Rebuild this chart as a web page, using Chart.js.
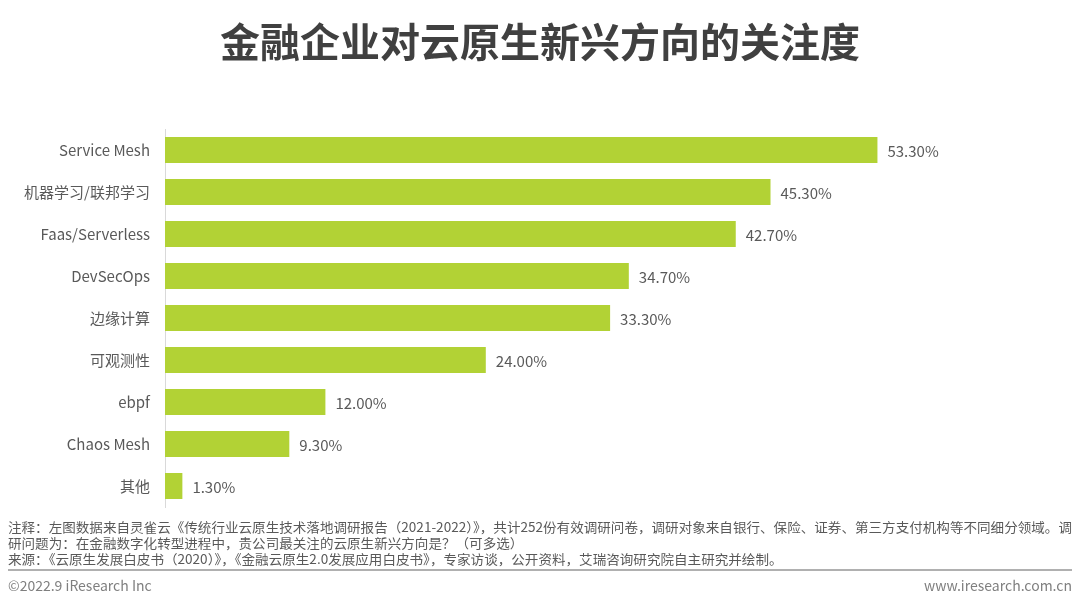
<!DOCTYPE html>
<html>
<head>
<meta charset="utf-8">
<script src="https://cdn.jsdelivr.net/npm/chart.js@4"></script>
<style>
  body { margin: 0; background: #fff; font-family: "Noto Sans CJK SC", sans-serif; }
  #wrap { position: relative; width: 1080px; height: 605px; overflow: hidden; }
  #chart { position: absolute; left: 0; top: 0; }
  .title { position: absolute; left: 0; width: 1080px; top: 13px; text-align: center;
    font-size: 40px; font-weight: bold; color: #404040; line-height: 54px; }
  .note { position: absolute; left: 8px; white-space: nowrap; font-size: 13px; color: #595959;
    line-height: 16px; transform-origin: left top; }
  .rule { position: absolute; left: 8px; width: 1064px; top: 569px; height: 2px; background: #b0b0b0; }
  .foot { position: absolute; top: 576px; font-size: 14px; color: #7f7f7f; line-height: 18px; }
</style>
</head>
<body>
<div id="wrap">
  <canvas id="chart" width="1080" height="605"></canvas>
  <div class="title">金融企业对云原生新兴方向的关注度</div>
  <div class="note" id="n1" style="top:519px">注释：左图数据来自灵雀云《传统行业云原生技术落地调研报告（2021-2022）》，共计252份有效调研问卷，调研对象来自银行、保险、证券、第三方支付机构等不同细分领域。调</div>
  <div class="note" id="n2" style="top:535px">研问题为：在金融数字化转型进程中，贵公司最关注的云原生新兴方向是？（可多选）</div>
  <div class="note" id="n3" style="top:551px">来源：《云原生发展白皮书（2020）》，《金融云原生2.0发展应用白皮书》，专家访谈，公开资料，艾瑞咨询研究院自主研究并绘制。</div>
  <div class="rule"></div>
  <div class="foot" style="left:8px">©2022.9 iResearch Inc</div>
  <div class="foot" style="right:8px">www.iresearch.com.cn</div>
</div>
<script>
const categories = ['Service Mesh', '机器学习/联邦学习', 'Faas/Serverless', 'DevSecOps', '边缘计算', '可观测性', 'ebpf', 'Chaos Mesh', '其他'];
const values = [53.3, 45.3, 42.7, 34.7, 33.3, 24.0, 12.0, 9.3, 1.3];
const valueLabels = ['53.30%', '45.30%', '42.70%', '34.70%', '33.30%', '24.00%', '12.00%', '9.30%', '1.30%'];

// stretch the note lines so line 1 ends at the right margin
const n1 = document.getElementById('n1');
const k = 1064 / n1.getBoundingClientRect().width;
['n1', 'n2', 'n3'].forEach(id => {
  document.getElementById(id).style.transform = 'scaleX(' + k + ')';
});

const font = '"Noto Sans CJK SC", sans-serif';

const valueLabelPlugin = {
  id: 'valueLabels',
  afterDatasetsDraw(chart) {
    const ctx = chart.ctx;
    const meta = chart.getDatasetMeta(0);
    ctx.save();
    ctx.font = '15px ' + font;
    ctx.fillStyle = '#595959';
    ctx.textAlign = 'left';
    ctx.textBaseline = 'middle';
    meta.data.forEach((bar, i) => {
      ctx.fillText(valueLabels[i], bar.x + 10, bar.y + 1);
    });
    ctx.restore();
  }
};

new Chart(document.getElementById('chart').getContext('2d'), {
  type: 'bar',
  data: {
    labels: categories,
    datasets: [
      {
        data: values,
        backgroundColor: '#b2d235',
        barPercentage: 0.62,
        categoryPercentage: 1
      }
    ]
  },
  options: {
    indexAxis: 'y',
    responsive: false,
    animation: false,
    layout: { padding: { left: 0, right: 113, top: 129, bottom: 98 } },
    plugins: {
      legend: { display: false },
      tooltip: { enabled: false }
    },
    scales: {
      x: {
        display: false,
        min: 0,
        max: 60
      },
      y: {
        afterFit(scale) { scale.width = 165; },
        grid: { display: false },
        border: { display: true, color: '#d9d9d9', width: 1 },
        ticks: {
          padding: 7,
          color: '#595959',
          font: { size: 15, family: font }
        }
      }
    }
  },
  plugins: [valueLabelPlugin]
});
</script>
</body>
</html>
